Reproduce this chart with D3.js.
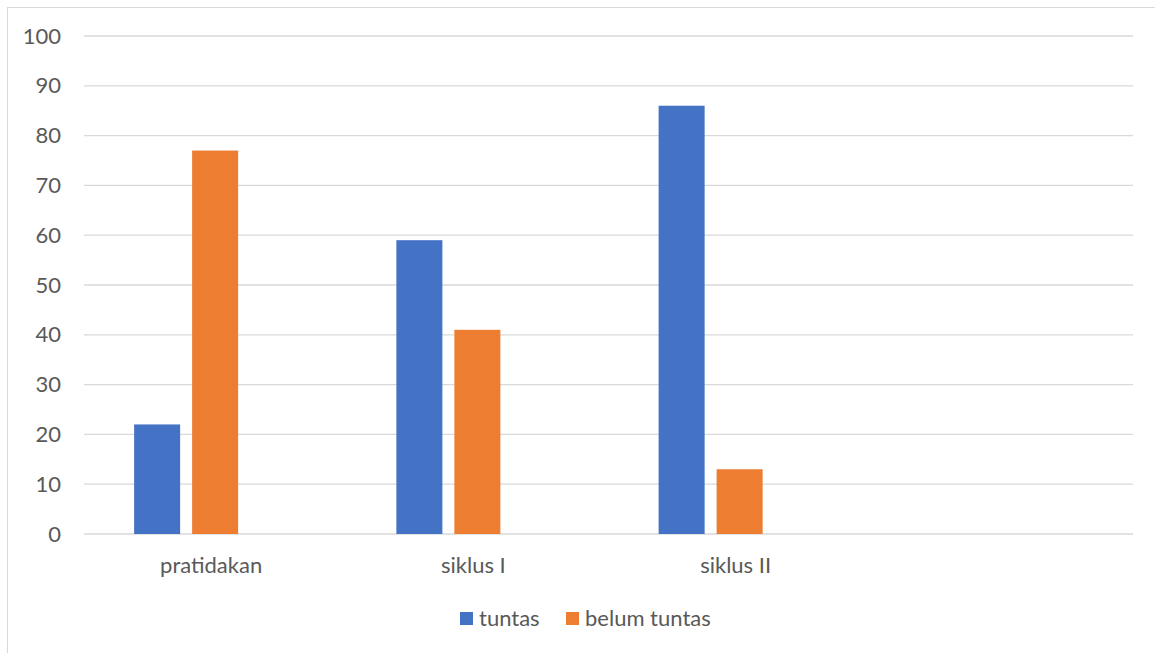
<!DOCTYPE html>
<html>
<head>
<meta charset="utf-8">
<script src="https://cdn.jsdelivr.net/npm/d3@7"></script>
<style>
  body { margin: 0; background: #fff; }
  svg text { font-family: Lato, "Open Sans", sans-serif; fill: #595959; }
</style>
</head>
<body>
<svg id="chart" width="1155" height="653"></svg>
<script>
// data
const kategori = ["pratidakan", "siklus I", "siklus II", ""]
const tuntas = [22, 59, 86, null]
const belumTuntas = [77, 41, 13, null]
const seri3 = [null, null, null, null]   // empty third series, keeps the spacing
const seriNama = ["tuntas", "belum tuntas", "seri3"]
const yTicks = [0, 10, 20, 30, 40, 50, 60, 70, 80, 90, 100]

const warna = {"tuntas": "#4472C4", "belum tuntas": "#ED7D31", "seri3": "none"}
const nilai = {"tuntas": tuntas, "belum tuntas": belumTuntas, "seri3": seri3}

const svg = d3.select("svg#chart")

// outer frame
svg.append("rect")
    .attr("x", 7.5).attr("y", 7.5)
    .attr("width", 1200).attr("height", 700)
    .attr("fill", "none")
    .attr("stroke", "#D9D9D9")

const plotL = 84, plotR = 1133, plotT = 36, plotB = 534

const x0 = d3.scaleBand().domain(kategori).range([plotL, plotR])
const groupW = 162
const x1 = d3.scaleBand().domain(seriNama)
            .range([0, groupW])
            .paddingInner(12 / 58)
const y = d3.scaleLinear().domain([0, 100]).range([plotB, plotT])

// gridlines
svg.selectAll("line.grid")
    .data(yTicks)
    .join("line")
        .attr("class", "grid")
        .attr("x1", plotL).attr("x2", plotR)
        .attr("y1", d => y(d)).attr("y2", d => y(d))
        .attr("stroke", "#D9D9D9")
        .attr("stroke-width", 1.3)

// y labels
svg.selectAll("text.ylab")
    .data(yTicks)
    .join("text")
        .attr("class", "ylab")
        .attr("x", 61)
        .attr("y", d => y(d) + 7.5)
        .attr("text-anchor", "end")
        .attr("font-size", "22px")
        .text(d => d)

// bars
const rows = []
kategori.forEach((k, i) => {
    seriNama.forEach(s => {
        if (nilai[s][i] != null) rows.push({kat: k, seri: s, v: nilai[s][i]})
    })
})

const offset = (x0.bandwidth() - groupW) / 2
svg.selectAll("rect.bar")
    .data(rows)
    .join("rect")
        .attr("class", "bar")
        .attr("x", d => x0(d.kat) + offset + x1(d.seri))
        .attr("width", x1.bandwidth())
        .attr("y", d => y(d.v))
        .attr("height", d => y(0) - y(d.v))
        .attr("fill", d => warna[d.seri])

// category labels
svg.selectAll("text.xlab")
    .data(kategori)
    .join("text")
        .attr("class", "xlab")
        .attr("x", d => x0(d) + x0.bandwidth() / 2 - 4)
        .attr("y", 573)
        .attr("text-anchor", "middle")
        .attr("font-size", "22px")
        .text(d => d)

// legend
const legendItems = [
    {nama: "tuntas", x: 460},
    {nama: "belum tuntas", x: 566}
]
const lg = svg.selectAll("g.legend")
    .data(legendItems)
    .join("g")
        .attr("class", "legend")
        .attr("transform", d => `translate(${d.x},612)`)
lg.append("rect")
    .attr("width", 13).attr("height", 13)
    .attr("fill", d => warna[d.nama])
lg.append("text")
    .attr("x", 19).attr("y", 14)
    .attr("font-size", "22px")
    .text(d => d.nama)
</script>
</body>
</html>
